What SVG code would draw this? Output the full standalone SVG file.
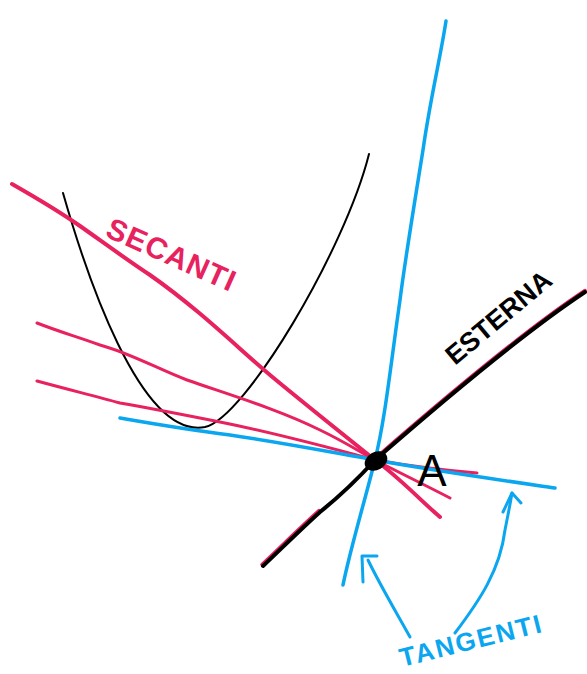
<svg xmlns="http://www.w3.org/2000/svg" width="587" height="674" viewBox="0 0 587 674">
<style>
.pk{fill:none;stroke:#e8215f;stroke-linecap:round;stroke-linejoin:round}
.bl{fill:none;stroke:#0aa6ef;stroke-linecap:round;stroke-linejoin:round}
.bk{fill:none;stroke:#000;stroke-linecap:round;stroke-linejoin:round}
.lbl{font-family:"Liberation Sans",Arial,sans-serif;font-weight:bold}
</style>
<rect width="587" height="674" fill="#fff"/>
<g id="parabola">
<path class="bk" stroke-width="2" d="M63,193 C85,270 140,440 205,427 C245,418 345,250 369,154"/>
</g>
<g id="connectors">
<path class="pk" stroke-width="3.5" transform="translate(-1,-1.5)" d="M263,566 C280,550 300,530 320,512"/>
<path class="pk" stroke-width="3.5" transform="translate(0,-1.5)" d="M375,460 C430,412 520,335 585,292"/>
<path class="pk" stroke-width="4" d="M12,184 C40,200 60,212 80,226 C100,240 130,262 150,275 C200,310 240,350 270,375 C300,400 340,432 375,460 C400,478 420,500 440,517"/>
<path class="pk" stroke-width="3" d="M37,323 C60,332 75,336 100,345 C130,353 160,370 187,380 C230,395 280,410 320,430 C345,442 360,452 375,460 C400,473 425,485 450,498"/>
<path class="pk" stroke-width="3" d="M37,381 C70,390 95,396 120,403 C160,410 190,416 220,422 C270,432 320,445 375,460 C410,466 440,470 477,473"/>
<path class="bl" stroke-width="3.5" d="M120,418 C160,425 190,430 230,435 C290,444 330,452 375,460 C430,470 500,480 555,488"/>
<path class="bl" stroke-width="3.5" d="M446,21 C440,60 430,100 423,150 C415,200 405,260 400,300 C390,370 385,420 375,460 C365,500 350,550 343,585"/>
<path class="bk" stroke-width="4" d="M263,566 C280,550 300,530 320,512 C340,496 355,482 375,460 C430,412 520,335 585,292"/>
<path class="bl" stroke-width="3" d="M410,637 C395,610 380,585 368,560"/>
<path class="bl" stroke-width="3" d="M363,582 L362,556 L377,556"/>
<path class="bl" stroke-width="3" d="M455,633 C480,600 500,570 505,530 C508,515 510,505 512,493"/>
<path class="bl" stroke-width="3" d="M503,512 L512,493 L521,503"/>
</g>
<g id="point-A">
<ellipse cx="376" cy="461" rx="12" ry="9" transform="rotate(-30 376 461)" fill="#000"/>
<text x="432" y="486" font-size="44" style="font-family:'Liberation Sans',Arial,sans-serif;font-weight:normal" text-anchor="middle" fill="#000">A</text>
</g>
<g id="label-secanti">
<text class="lbl" x="0" y="0" font-size="30" letter-spacing="1" fill="#e8215f" transform="translate(104,236) rotate(24)">SECANTI</text>
</g>
<g id="label-esterna">
<text class="lbl" x="0" y="0" font-size="27" fill="#000" transform="translate(455,366) rotate(-40)">ESTERNA</text>
</g>
<g id="label-tangenti">
<text class="lbl" x="0" y="0" font-size="26" letter-spacing="2" fill="#0aa6ef" transform="translate(402,667) rotate(-14)">TANGENTI</text>
</g>
</svg>
